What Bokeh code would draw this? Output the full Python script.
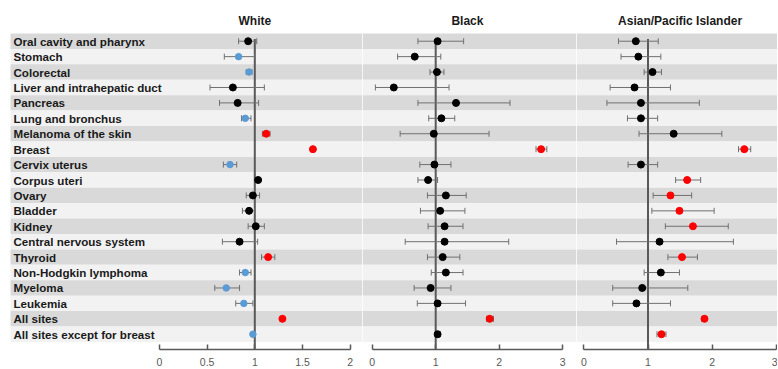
from bokeh.plotting import figure
from bokeh.layouts import row
from bokeh.models import ColumnDataSource, Range1d, FixedTicker, Whisker, TeeHead
from bokeh.core.properties import value
from bokeh.embed import file_html
from bokeh.resources import INLINE

# ---------------- data ----------------
sites = ["Oral cavity and pharynx", "Stomach", "Colorectal", "Liver and intrahepatic duct",
         "Pancreas", "Lung and bronchus", "Melanoma of the skin", "Breast", "Cervix uterus",
         "Corpus uteri", "Ovary", "Bladder", "Kidney", "Central nervous system", "Thyroid",
         "Non-Hodgkin lymphoma", "Myeloma", "Leukemia", "All sites", "All sites except for breast"]

white_est = [0.93, 0.83, 0.94, 0.77, 0.82, 0.90, 1.12, 1.61, 0.74, 1.035,
             0.98, 0.94, 1.01, 0.84, 1.14, 0.90, 0.70, 0.885, 1.29, 0.98]
white_lo = [0.83, 0.68, 0.91, 0.53, 0.63, 0.86, 1.08, 1.60, 0.67, 1.02,
            0.91, 0.87, 0.93, 0.66, 1.07, 0.84, 0.58, 0.80, 1.28, 0.97]
white_hi = [1.02, 1.00, 0.97, 1.10, 1.04, 0.96, 1.16, 1.62, 0.81, 1.05,
            1.05, 1.00, 1.10, 1.03, 1.21, 0.96, 0.84, 0.98, 1.30, 0.99]
white_sig = ["ns", "low", "low", "ns", "ns", "low", "high", "high", "low", "ns",
             "ns", "ns", "ns", "ns", "high", "low", "low", "low", "high", "low"]

black_est = [1.03, 0.67, 1.02, 0.34, 1.32, 1.09, 0.97, 2.66, 0.98, 0.88,
             1.16, 1.07, 1.14, 1.14, 1.11, 1.16, 0.92, 1.03, 1.85, 1.03]
black_lo = [0.72, 0.40, 0.91, 0.05, 0.72, 0.89, 0.44, 2.58, 0.75, 0.72,
            0.87, 0.76, 0.88, 0.52, 0.87, 0.93, 0.66, 0.71, 1.80, 1.00]
black_hi = [1.44, 1.08, 1.13, 1.21, 2.17, 1.30, 1.84, 2.75, 1.24, 1.03,
            1.48, 1.46, 1.43, 2.15, 1.38, 1.43, 1.24, 1.47, 1.91, 1.07]
black_sig = ["ns"] * 7 + ["high"] + ["ns"] * 10 + ["high", "ns"]

api_est = [0.81, 0.85, 1.07, 0.79, 0.89, 0.89, 1.40, 2.50, 0.89, 1.61,
           1.35, 1.49, 1.70, 1.18, 1.53, 1.20, 0.91, 0.82, 1.88, 1.21]
api_lo = [0.54, 0.58, 0.94, 0.41, 0.36, 0.68, 0.86, 2.41, 0.69, 1.43,
          1.08, 1.06, 1.27, 0.51, 1.31, 0.94, 0.45, 0.45, 1.84, 1.14]
api_hi = [1.16, 1.20, 1.21, 1.35, 1.80, 1.15, 2.15, 2.60, 1.15, 1.82,
          1.68, 2.03, 2.25, 2.33, 1.77, 1.49, 1.62, 1.35, 1.91, 1.28]
api_sig = ["ns"] * 7 + ["high", "ns"] + ["high"] * 4 + ["ns", "high", "ns", "ns", "ns", "high", "high"]

panel_titles = ["White", "Black", "Asian/Pacific Islander"]
white_ticks = [0, 0.5, 1, 1.5, 2]
other_ticks = [0, 1, 2, 3]

# ---------------- styling ----------------
SIG_COLORS = {"ns": "#000000", "low": "#5b9bd5", "high": "#ff0000"}
SIG_SIZES = {"ns": 7, "low": 6.5, "high": 7}
BAND_DARK = "#d9d9d9"
BAND_LIGHT = "#f2f2f2"
AXIS_GREY = "#595959"
FONT = "Liberation Sans"

n = len(sites)
rows_idx = list(range(n))
Y_TOP = -2.64
Y_BOT = 19.99
FRAME_H = 349
BOTTOM = 19


def make_panel(frame_w, x0_px, px_per_unit, est, lo, hi, sig, title, ticks,
               band_left_px=None, band_right_px=None, labels=False):
    xs = -x0_px / px_per_unit
    xe = (frame_w - x0_px) / px_per_unit
    pad = 2 / px_per_unit
    p = figure(width=frame_w, height=FRAME_H + BOTTOM, frame_width=frame_w, frame_height=FRAME_H,
               x_range=Range1d(xs, xe), y_range=Range1d(Y_BOT, Y_TOP),
               output_backend="svg", toolbar_location=None, y_axis_location=None,
               min_border_left=0, min_border_right=0, min_border_top=0, min_border_bottom=BOTTOM)
    p.outline_line_color = None
    p.grid.visible = False
    p.background_fill_color = "white"
    p.border_fill_color = "white"

    bl = xs - pad if band_left_px is None else (band_left_px - x0_px) / px_per_unit
    br = xe + pad if band_right_px is None else (band_right_px - x0_px) / px_per_unit
    band_src = ColumnDataSource(dict(
        y=rows_idx, color=[BAND_DARK if i % 2 == 0 else BAND_LIGHT for i in rows_idx]))
    p.hbar(y="y", height=1.0, left=bl, right=br, fill_color="color", line_color=None,
           source=band_src, level="image")

    # reference line at 1
    p.segment(x0=[1], x1=[1], y0=[-0.15], y1=[Y_BOT], line_color=AXIS_GREY, line_width=2,
              level="underlay")

    src = ColumnDataSource(dict(y=rows_idx, est=est, lo=lo, hi=hi,
                                color=[SIG_COLORS[s] for s in sig],
                                size=[SIG_SIZES[s] for s in sig]))
    wh = Whisker(base="y", lower="lo", upper="hi", dimension="width", source=src,
                 line_color="#707070", line_width=1, level="underlay",
                 upper_head=TeeHead(size=6, line_color="#707070", line_width=1),
                 lower_head=TeeHead(size=6, line_color="#707070", line_width=1))
    p.add_layout(wh)
    p.scatter(x="est", y="y", size="size", fill_color="color", line_color="color", source=src)

    # title
    p.text(x=[(ticks[0] + ticks[-1]) / 2], y=[-1.34], text=[title], text_align="center",
           text_baseline="middle", text_font=value(FONT), text_font_style="bold",
           text_font_size="12px", text_color="#1a1a1a")

    if labels:
        lx = (13 - x0_px) / px_per_unit
        p.text(x=[lx] * n, y=rows_idx, text=sites, text_align="left", text_baseline="middle",
               text_font=value(FONT), text_font_style="bold", text_font_size="11.6px",
               text_color="#1a1a1a")

    ax = p.xaxis[0]
    ax.ticker = FixedTicker(ticks=ticks)
    ax.bounds = (ticks[0], ticks[-1])
    ax.axis_line_color = AXIS_GREY
    ax.axis_line_width = 1.5
    ax.major_tick_line_color = AXIS_GREY
    ax.major_tick_line_width = 1.5
    ax.major_tick_in = 5
    ax.major_tick_out = 0
    ax.minor_tick_line_color = None
    ax.major_label_standoff = 8
    ax.major_label_text_color = AXIS_GREY
    ax.major_label_text_font = FONT
    ax.major_label_text_font_size = "10.5px"
    return p


p1 = make_panel(362, 159, 95.3, white_est, white_lo, white_hi, white_sig,
                panel_titles[0], white_ticks, band_left_px=10, labels=True)
p2 = make_panel(214, 371.7 - 362, 63.5, black_est, black_lo, black_hi, black_sig,
                panel_titles[1], other_ticks)
p3 = make_panel(201, 583.3 - 576, 64.2, api_est, api_lo, api_hi, api_sig,
                panel_titles[2], other_ticks)

layout = row(p1, p2, p3, spacing=0)
open("out.html", "w").write(file_html(layout, INLINE))
